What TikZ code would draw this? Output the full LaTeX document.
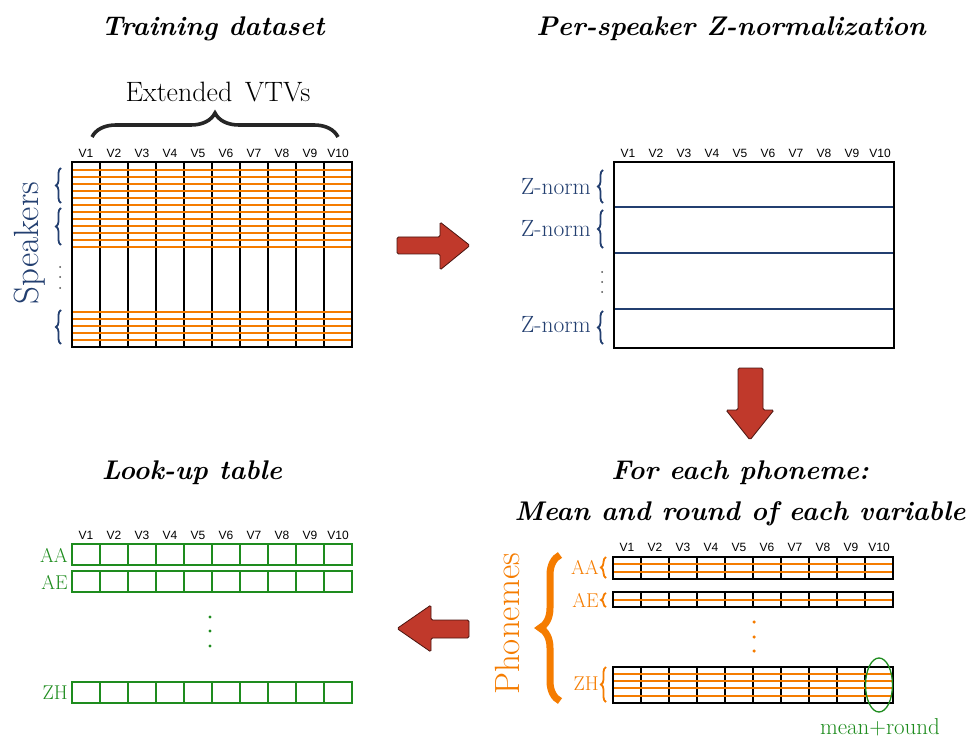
\documentclass[tikz,border=0pt]{standalone}
\usepackage{fontspec}
\newfontfamily\vfont{Liberation Sans}
\usetikzlibrary{decorations.pathreplacing}
\definecolor{zblue}{HTML}{233F70}
\definecolor{ph}{HTML}{F57C00}
\definecolor{lgreen}{HTML}{1E8C1E}
\definecolor{arrowred}{HTML}{C0392B}
\definecolor{arrowedge}{HTML}{4A1510}
\begin{document}
\begin{tikzpicture}[x=1pt,y=-1pt,
  title/.style={font=\fontsize{27}{32}\selectfont\bfseries\itshape, inner sep=0, anchor=base},
  vlab/.style={font=\vfont\fontsize{12}{14}\selectfont, inner sep=0},
  gridline/.style={line width=1.3pt, black},
  oline/.style={ph, line width=1.6pt},
  bluebrace/.style={zblue, line width=1.8pt, decorate, decoration={brace, amplitude=5pt}},
  orbrace/.style={ph, line width=1.8pt, decorate, decoration={brace, amplitude=5pt}},
  dotmark/.style={circle, fill, inner sep=0, minimum size=2.6pt},
  bigarrow/.style={fill=arrowred, draw=arrowedge, line width=0.8pt, rounded corners=1.5pt},
  serlab/.style={font=\fontsize{23.5}{27}\selectfont, inner sep=0, anchor=east},
  phlab/.style={font=\fontsize{20}{24}\selectfont, inner sep=0, text=ph, anchor=east},
  grlab/.style={font=\fontsize{20}{24}\selectfont, inner sep=0, text=lgreen},
  greenbox/.style={draw=lgreen, line width=1.3pt}
]
\useasboundingbox (0,0) rectangle (967,738);

% ---- titles ----
\node[title] (t1) at (213,36) {Training dataset};
\node[title] (t2) at (731,36) {Per-speaker Z-normalization};
\node[title] (t3) at (192,479) {Look-up table};
\node[title] (t4) at (740,479) {For each phoneme:};
\node[title] (t5) at (740,520) {Mean and round of each variable};

% ---- training dataset ----
\node[font=\fontsize{28}{32}\selectfont, inner sep=0, anchor=base] (ext) at (218,102) {Extended\hspace{0.45em}VTVs};
\draw[black!85, line width=3.6pt, decorate, decoration={brace, amplitude=24pt}] (92,137) -- (338,137);

\foreach \i in {1,...,10}
  \node[vlab] (a\i) at ({72+14+28*(\i-1)},153) {V\i};
\foreach \i in {1,...,9}
  \draw[gridline] ({72+28*\i},162) -- ({72+28*\i},347);
\foreach \k in {0,...,11}
  \draw[oline] (72,{170+7*\k}) -- (352,{170+7*\k});
\foreach \k in {0,...,4}
  \draw[oline] (72,{312+7*\k}) -- (352,{312+7*\k});
\draw[gridline] (72,162) rectangle (352,347);

\draw[bluebrace] (61,203) -- (61,168);
\draw[bluebrace] (61,245) -- (61,208);
\draw[bluebrace] (61,344) -- (61,310);
\foreach \y in {267,277,288}
  \node[dotmark, black!70, minimum size=2pt] at (60,\y) {};
\node[font=\fontsize{35}{40}\selectfont, text=zblue, rotate=90, inner sep=0] (spk) at (30,243) {Speakers};

% ---- arrow 1 ----
\draw[bigarrow] (397,237) -- (440,237) -- (440,222) -- (470,245.5) -- (440,270) -- (440,254) -- (397,254) -- cycle;

% ---- per-speaker z-normalisation ----
\foreach \i in {1,...,10}
  \node[vlab] (b\i) at ({614+14+28*(\i-1)},153) {V\i};
\draw[zblue, line width=1.3pt] (614,207) -- (894,207);
\draw[zblue, line width=1.3pt] (614,253) -- (894,253);
\draw[zblue, line width=1.3pt] (614,309) -- (894,309);
\draw[gridline] (614,162) rectangle (894,348);
\draw[bluebrace] (603,203) -- (603,170);
\draw[bluebrace] (603,248) -- (603,210);
\draw[bluebrace] (603,344) -- (603,311);
\node[serlab, text=zblue] (z1) at (591,187) {Z-norm};
\node[serlab, text=zblue] (z2) at (591,229) {Z-norm};
\node[serlab, text=zblue] (z3) at (591,325) {Z-norm};
\foreach \y in {272,282,292}
  \node[dotmark, black!70, minimum size=2pt] at (602,\y) {};

% ---- arrow 2 ----
\draw[bigarrow] (738,368) -- (763,368) -- (763,410) -- (774,410) -- (750,440) -- (726,410) -- (738,410) -- cycle;

% ---- per-phoneme tables ----
\foreach \i in {1,...,10}
  \node[vlab] (c\i) at ({613+14+28*(\i-1)},547) {V\i};
% AA
\foreach \i in {1,...,9}
  \draw[gridline] ({613+28*\i},557) -- ({613+28*\i},579);
\draw[oline] (613,564) -- (893,564);
\draw[oline] (613,572) -- (893,572);
\draw[gridline] (613,557) rectangle (893,579);
% AE
\foreach \i in {1,...,9}
  \draw[gridline] ({613+28*\i},592) -- ({613+28*\i},607);
\draw[oline] (613,600) -- (893,600);
\draw[gridline] (613,592) rectangle (893,607);
% ZH
\foreach \i in {1,...,9}
  \draw[gridline] ({613+28*\i},667) -- ({613+28*\i},703);
\foreach \y in {674,681,688,696}
  \draw[oline] (613,\y) -- (893,\y);
\draw[gridline] (613,667) rectangle (893,703);

\draw[orbrace] (606,578) -- (606,557);
\draw[orbrace] (606,607) -- (606,593);
\draw[orbrace] (606,702) -- (606,667);
\node[phlab] (paa) at (599,567) {AA};
\node[phlab] (pae) at (599,600) {AE};
\node[phlab] (pzh) at (599,684) {ZH};
\draw[ph, line width=7pt, decorate, decoration={brace, amplitude=20pt}] (560,701) -- (560,555);
\node[font=\fontsize{35}{40}\selectfont, text=ph, rotate=90, inner sep=0] (phon) at (507,624) {Phonemes};
\foreach \y in {622,637,651}
  \node[dotmark, ph, minimum size=3.5pt] at (754,\y) {};

\draw[lgreen, line width=1.3pt] (879,685) ellipse [x radius=13.5, y radius=27];
\node[grlab, font=\fontsize{23}{26}\selectfont] (mr) at (880,727) {mean+round};

% ---- arrow 3 ----
\draw[bigarrow] (469,620) -- (431,620) -- (431,605) -- (397,628.5) -- (431,652) -- (431,638) -- (469,638) -- cycle;

% ---- look-up table ----
\foreach \i in {1,...,10}
  \node[vlab] (d\i) at ({72+14+28*(\i-1)},535) {V\i};
\foreach \ya/\yb in {544/565, 571/592, 682/703}{
  \foreach \i in {1,...,9}
    \draw[lgreen, line width=1.3pt] ({72+28*\i},\ya) -- ({72+28*\i},\yb);
  \draw[greenbox] (72,\ya) rectangle (352,\yb);
}
\node[grlab, anchor=east] (laa) at (68,555) {AA};
\node[grlab, anchor=east] (lae) at (68,582) {AE};
\node[grlab, anchor=east] (lzh) at (68,693) {ZH};
\foreach \y in {617,631,646}
  \node[dotmark, lgreen, minimum size=3.2pt] at (210,\y) {};
\end{tikzpicture}
\end{document}
